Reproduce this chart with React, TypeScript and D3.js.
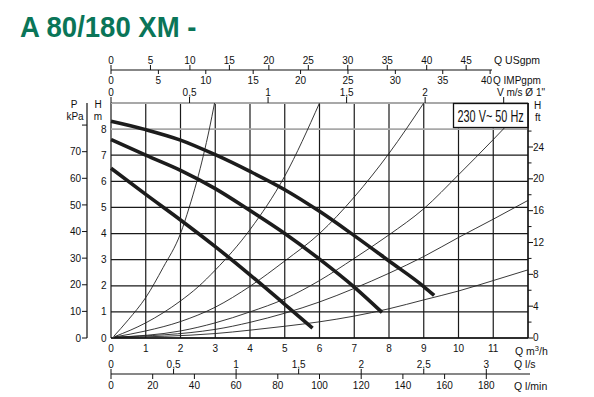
import React from "react";
import * as d3 from "d3";

// ---------- data ----------
const xTicks = [0, 1, 2, 3, 4, 5, 6, 7, 8, 9, 10, 11];
const mTicks = [0, 1, 2, 3, 4, 5, 6, 7, 8];
const kPaTicks = [0, 10, 20, 30, 40, 50, 60, 70];
const kPaExtra = [80];
const ftMajor = [0, 4, 8, 12, 16, 20, 24];
const ftMinor = [2, 6, 10, 14, 18, 22, 26];
const usgpmTicks = [0, 5, 10, 15, 20, 25, 30, 35, 40, 45];
const impgpmTicks = [0, 5, 10, 15, 20, 25, 30, 35, 40];
const velTicks = [0, 0.5, 1, 1.5, 2, 2.5];
const velLabels = ["0", "0,5", "1", "1,5", "2", ""];
const lsTicks = [0, 0.5, 1, 1.5, 2, 2.5, 3];
const lsLabels = ["0", "0,5", "1", "1,5", "2", "2,5", "3"];
const lminTicks = [0, 20, 40, 60, 80, 100, 120, 140, 160, 180];

// pump curves (Q m3/h, H m)
const pumpMax: [number, number][] = [[0, 8.3], [1, 7.98], [2, 7.58], [3, 7.02], [4, 6.38], [5, 5.68], [6, 4.85], [7, 3.92], [8, 2.95], [9, 1.97], [9.3, 1.63]];
const pumpMid: [number, number][] = [[0, 7.6], [1, 7.0], [2, 6.42], [3, 5.72], [4, 4.88], [5, 4.0], [6, 3.02], [7, 1.95], [7.8, 0.98]];
const pumpMin: [number, number][] = [[0, 6.5], [1, 5.5], [2, 4.52], [3, 3.5], [4, 2.42], [5, 1.29], [5.8, 0.38]];

// system curves
const sys1: [number, number][] = [[0.07, 0.05], [0.5, 0.7], [1, 1.55], [1.5, 2.7], [2, 4.0], [2.25, 5.0], [2.47, 6.0], [2.66, 7.0], [2.83, 8.0], [2.98, 9.0]];
const sys2: [number, number][] = [[0.1, 0.05], [1, 0.58], [2, 1.42], [2.5, 1.95], [3, 2.6], [4, 4.15], [5, 6.2], [6, 9.0]];
const sys3: [number, number][] = [[0.1, 0.04], [1, 0.27], [2, 0.63], [3, 1.18], [4, 1.98], [5, 2.95], [6, 4.0], [7, 5.4], [8, 7.07], [9, 9.0]];
const sys4: [number, number][] = [[0.1, 0.03], [2, 0.27], [3, 0.58], [4, 1.0], [5, 1.5], [6, 2.2], [7, 3.05], [8, 3.95], [9, 4.95], [10, 6.25], [11, 7.6], [12, 9.0]];
const sys5: [number, number][] = [[0.1, 0.03], [3, 0.33], [4, 0.6], [5, 0.95], [6, 1.38], [7, 1.9], [8, 2.48], [9, 3.12], [10, 3.85], [11, 4.55], [12, 5.27]];
const sys6: [number, number][] = [[0.1, 0.02], [3, 0.17], [4, 0.3], [5, 0.45], [6, 0.62], [7, 0.84], [8, 1.12], [9, 1.46], [10, 1.8], [11, 2.2], [12, 2.61]];

const pumpCurves = [pumpMax, pumpMid, pumpMin];
const systemCurves = [sys1, sys2, sys3, sys4, sys5, sys6];

// unit conversions
const KPA_PER_M = 9.81;
const FT_PER_M = 3.2808;
const USGPM_PER_M3H = 4.4029;
const IMPGPM_PER_M3H = 3.6662;
const M3H_PER_MS = 4.52;
const M3H_PER_LS = 3.6;
const M3H_PER_LMIN = 0.06;

const FONT = "'Liberation Sans', Arial, Helvetica, sans-serif";
const INK = "#111";

export default function App() {
  const W = 594, H = 397;
  const x = d3.scaleLinear().domain([0, 12]).range([111, 528]);
  const y = d3.scaleLinear().domain([0, 9]).range([338, 103]);
  const yKPa = d3.scaleLinear().domain([0, 9 * KPA_PER_M]).range([338, 103]);
  const yFt = d3.scaleLinear().domain([0, 9 * FT_PER_M]).range([338, 103]);
  const xUS = (v: number) => x(v / USGPM_PER_M3H);
  const xIMP = (v: number) => x(v / IMPGPM_PER_M3H);
  const xVel = (v: number) => x(v * M3H_PER_MS);
  const xLs = (v: number) => x(v * M3H_PER_LS);
  const xLmin = (v: number) => x(v * M3H_PER_LMIN);

  const line = d3.line<[number, number]>().x(d => x(d[0])).y(d => y(d[1])).curve(d3.curveMonotoneX);

  const x0 = x(0), x12 = x(12), yTop = y(9), yBot = y(0);
  const axP = 87;
  const topLineY = 70;
  const botLineY = 374;

  return (
    <svg width={W} height={H} style={{ position: "absolute", left: 0, top: 0, background: "#fff" }} fontFamily={FONT}>
      <rect x={0} y={0} width={W} height={H} fill="#fff" />
      {/* title */}
      <text transform="translate(20,37) scale(0.95,1)" fontSize={29} fontWeight="bold" fill="#0a7558">A 80/180 XM -</text>

      <defs>
        <clipPath id="plot">
          <rect x={x0} y={yTop} width={x12 - x0} height={yBot - yTop} />
        </clipPath>
      </defs>

      {/* vertical grid */}
      {xTicks.concat([12]).map(t => (
        <line key={"vg" + t} x1={x(t)} x2={x(t)} y1={yTop} y2={yBot} stroke="#1a1a1a" strokeWidth={1.2} />
      ))}
      {/* horizontal grid */}
      {mTicks.map(t => (
        <line key={"hg" + t} x1={x0} x2={x12} y1={y(t)} y2={y(t)} stroke={t === 8 ? "#a8a8a8" : "#1a1a1a"} strokeWidth={t === 8 ? 1.6 : 1.2} />
      ))}
      <line x1={x0} x2={x12} y1={yTop} y2={yTop} stroke="#a8a8a8" strokeWidth={2} />

      {/* system curves */}
      <g clipPath="url(#plot)">
        {systemCurves.map((c, i) => (
          <path key={"s" + i} d={line(c) || ""} fill="none" stroke="#222" strokeWidth={0.9} />
        ))}
      </g>
      {/* pump curves */}
      {pumpCurves.map((c, i) => (
        <path key={"p" + i} d={line(c) || ""} fill="none" stroke="#1c1c1c" strokeWidth={3.6} />
      ))}

      {/* legend box */}
      <rect x={453.5} y={103.5} width={74.5} height={24} fill="#fff" stroke={INK} strokeWidth={1.3} />
      <text transform="translate(457.5,121.5) scale(0.68,1)" fontSize={16} fill={INK}>230 V~ 50 Hz</text>

      {/* x axis (bottom of plot) */}
      <line x1={x0} x2={x12} y1={yBot} y2={yBot} stroke={INK} strokeWidth={1.3} />
      {xTicks.map(t => (
        <text key={"xl" + t} x={x(t)} y={352} fontSize={10} textAnchor="middle" fill={INK}>{t}</text>
      ))}
      <text x={515} y={354.5} fontSize={10.5} fill={INK}>Q m<tspan dy={-4} fontSize={7.5}>3</tspan><tspan dy={4}>/h</tspan></text>

      {/* left H m labels */}
      {mTicks.map(t => (
        <text key={"ml" + t} x={106.5} y={y(t) + 3.6} fontSize={10} textAnchor="end" fill={INK}>{t}</text>
      ))}
      <text x={98} y={108} fontSize={10} textAnchor="middle" fill={INK}>H</text>
      <text x={98} y={120} fontSize={10} textAnchor="middle" fill={INK}>m</text>

      {/* P kPa axis */}
      <line x1={axP} x2={axP} y1={yTop} y2={yBot} stroke={INK} strokeWidth={1.2} />
      {kPaTicks.concat(kPaExtra).map(t => (
        <line key={"kt" + t} x1={axP - 5} x2={axP} y1={yKPa(t)} y2={yKPa(t)} stroke={INK} strokeWidth={1} />
      ))}
      {kPaTicks.map(t => (
        <text key={"kl" + t} x={81} y={yKPa(t) + 3.6} fontSize={10} textAnchor="end" fill={INK}>{t}</text>
      ))}
      <text x={74} y={108} fontSize={10} textAnchor="middle" fill={INK}>P</text>
      <text x={75} y={120} fontSize={10} textAnchor="middle" fill={INK}>kPa</text>

      {/* right H ft axis */}
      <line x1={x12} x2={x12} y1={yTop} y2={yBot} stroke={INK} strokeWidth={1.2} />
      {ftMajor.map(t => (
        <g key={"fM" + t}>
          <line x1={x12} x2={x12 + 5} y1={yFt(t)} y2={yFt(t)} stroke={INK} strokeWidth={1} />
          <text x={533} y={yFt(t) + (t === 0 ? 2.5 : 3.6)} fontSize={10} fill={INK}>{t}</text>
        </g>
      ))}
      {ftMinor.map(t => (
        <line key={"fm" + t} x1={x12} x2={x12 + 3.5} y1={yFt(t)} y2={yFt(t)} stroke={INK} strokeWidth={1} />
      ))}
      <text x={534} y={108.5} fontSize={10} fill={INK}>H</text>
      <text x={535} y={121} fontSize={10} fill={INK}>ft</text>

      {/* velocity axis */}
      {velTicks.map((t, i) => (
        <g key={"v" + t}>
          <line x1={xVel(t)} x2={xVel(t)} y1={97} y2={yTop} stroke={INK} strokeWidth={1} />
          <text x={xVel(t)} y={95.5} fontSize={10} textAnchor="middle" fill={INK}>{velLabels[i]}</text>
        </g>
      ))}
      <text x={497} y={95.5} fontSize={10} fill={INK}>V m/s Ø 1"</text>

      {/* top USgpm / IMPgpm axis */}
      <line x1={x0} x2={492} y1={topLineY} y2={topLineY} stroke={INK} strokeWidth={1.2} />
      {usgpmTicks.map(t => (
        <g key={"us" + t}>
          <line x1={xUS(t)} x2={xUS(t)} y1={topLineY - 5} y2={topLineY} stroke={INK} strokeWidth={1} />
          <text x={xUS(t)} y={64} fontSize={10} textAnchor="middle" fill={INK}>{t}</text>
        </g>
      ))}
      {impgpmTicks.map(t => (
        <g key={"imp" + t}>
          <line x1={xIMP(t)} x2={xIMP(t)} y1={topLineY} y2={topLineY + 4} stroke={INK} strokeWidth={1} />
          <text x={t === 40 ? xIMP(t) - 3.5 : xIMP(t)} y={83.5} fontSize={10} textAnchor="middle" fill={INK}>{t}</text>
        </g>
      ))}
      <text x={494} y={64} fontSize={10.5} fill={INK}>Q USgpm</text>
      <text x={493} y={84} fontSize={10} fill={INK}>Q IMPgpm</text>

      {/* bottom l/s and l/min axis */}
      <line x1={x0} x2={530} y1={botLineY} y2={botLineY} stroke={INK} strokeWidth={1.2} />
      {lsTicks.map((t, i) => (
        <g key={"ls" + t}>
          <line x1={xLs(t)} x2={xLs(t)} y1={botLineY - 5} y2={botLineY} stroke={INK} strokeWidth={1} />
          <text x={xLs(t)} y={367.5} fontSize={10} textAnchor="middle" fill={INK}>{lsLabels[i]}</text>
        </g>
      ))}
      {lminTicks.map(t => (
        <g key={"lm" + t}>
          <line x1={xLmin(t)} x2={xLmin(t)} y1={botLineY} y2={botLineY + 5} stroke={INK} strokeWidth={1} />
          <text x={xLmin(t)} y={388.5} fontSize={10} textAnchor="middle" fill={INK}>{t}</text>
        </g>
      ))}
      <text x={514} y={368} fontSize={10.5} fill={INK}>Q l/s</text>
      <text x={514} y={390} fontSize={10.5} fill={INK}>Q l/min</text>
    </svg>
  );
}
